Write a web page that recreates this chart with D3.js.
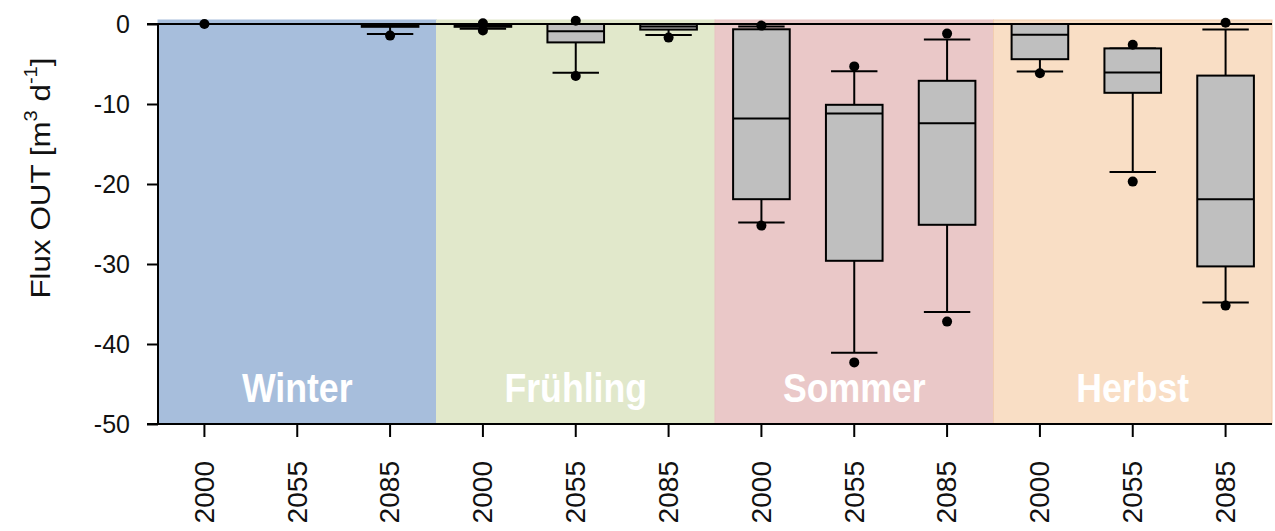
<!DOCTYPE html>
<html><head><meta charset="utf-8">
<script src="https://cdn.jsdelivr.net/npm/d3@7"></script>
<style>
html,body{margin:0;padding:0;background:#fff;}
svg{display:block;font-family:Arial,"Liberation Sans",sans-serif;}
</style></head>
<body>
<svg id="chart" width="1275" height="531"></svg>
<script>
// ---- data ----
const seasons = ["Winter", "Frühling", "Sommer", "Herbst"];
const years = ["2000", "2055", "2085"];
const yTicks = [0, -10, -20, -30, -40, -50];
// per box, order: Winter 2000,2055,2085, Frühling ..., Sommer ..., Herbst ...
const dotHigh     = [0,    null, null,  0.1,  0.4,  null, -0.2, -5.3, -1.2, null, -2.6,  0.15];
const whiskerHigh = [0,    0,    0,     0,    0,    0,    -0.3, -5.9, -1.95, 0,   -3.05, -0.7];
const q3          = [0,    0,    0,     0,    0,    0,    -0.66,-10.1,-7.1,  0,   -3.05, -6.45];
const median      = [0,    0,    -0.15, -0.15,-0.9, -0.3, -11.8,-11.2,-12.4,-1.35, -6.05,-21.9];
const q1          = [0,    0,    -0.35, -0.35,-2.3, -0.7, -21.9,-29.6,-25.1,-4.4,  -8.6, -30.3];
const whiskerLow  = [0,    0,    -1.25, -0.6, -6.1, -1.38,-24.8,-41.1,-36.0,-5.95,-18.5, -34.8];
const dotLow      = [null, null, -1.45, -0.8, -6.5, -1.7, -25.2,-42.3,-37.2,-6.15,-19.7, -35.2];

// ---- styles ----
const seasonFill = ["#a7bedc", "#e1e8cb", "#eac8c8", "#f9dec5"];
const seasonStroke = ["#a7bedc", "#e1e8cb", "#e8c2c1", "#f2cdb0"];

const svg = d3.select("#chart");
const keys = [];
seasons.forEach((s, i) => years.forEach(y => keys.push(s + "|" + y)));

const x = d3.scaleBand().domain(keys).range([158, 1272]).padding(0);
const y = d3.scaleLinear().domain([-50, 0]).range([424, 24]);

// season backgrounds
const sg = svg.append("g");
seasons.forEach((s, i) => {
  const x0 = x(s + "|" + years[0]);
  const x1 = x(s + "|" + years[years.length - 1]) + x.bandwidth();
  sg.append("rect")
    .attr("x", x0).attr("y", y(0.5))
    .attr("width", x1 - x0).attr("height", y(-50) - y(0.5))
    .attr("fill", seasonFill[i]).attr("stroke", seasonStroke[i]).attr("stroke-width", 1);
});

// season labels
seasons.forEach((s, i) => {
  const cx = x(s + "|" + years[1]) + x.bandwidth() / 2;
  svg.append("text")
    .attr("transform", `translate(${cx},402) scale(0.87,1)`)
    .attr("text-anchor", "middle")
    .attr("fill", "#ffffff")
    .attr("font-size", 41)
    .attr("font-weight", "bold")
    .text(s);
});

// zero line
svg.append("line")
  .attr("x1", 147).attr("x2", 1272)
  .attr("y1", y(0)).attr("y2", y(0))
  .attr("stroke", "#000").attr("stroke-width", 2);

// boxes
const boxW = x.bandwidth() * 0.61;
const capW = x.bandwidth() * 0.5;
const bg = svg.append("g");
keys.forEach((k, i) => {
  const cx = x(k) + x.bandwidth() / 2;
  const g = bg.append("g");
  g.append("line").attr("x1", cx).attr("x2", cx)
    .attr("y1", y(whiskerHigh[i])).attr("y2", y(q3[i]))
    .attr("stroke", "#000").attr("stroke-width", 2);
  g.append("line").attr("x1", cx).attr("x2", cx)
    .attr("y1", y(q1[i])).attr("y2", y(whiskerLow[i]))
    .attr("stroke", "#000").attr("stroke-width", 2);
  [whiskerHigh[i], whiskerLow[i]].forEach(v => {
    g.append("line").attr("x1", cx - capW / 2).attr("x2", cx + capW / 2)
      .attr("y1", y(v)).attr("y2", y(v))
      .attr("stroke", "#000").attr("stroke-width", 2);
  });
  g.append("rect")
    .attr("x", cx - boxW / 2).attr("width", boxW)
    .attr("y", y(q3[i])).attr("height", Math.max(0, y(q1[i]) - y(q3[i])))
    .attr("fill", "#bfbfbf").attr("stroke", "#000").attr("stroke-width", 2);
  g.append("line").attr("x1", cx - boxW / 2).attr("x2", cx + boxW / 2)
    .attr("y1", y(median[i])).attr("y2", y(median[i]))
    .attr("stroke", "#000").attr("stroke-width", 2);
  [dotHigh[i], dotLow[i]].forEach(v => {
    if (v === null) return;
    g.append("circle").attr("cx", cx).attr("cy", y(v)).attr("r", 5).attr("fill", "#000");
  });
});

// y axis
const yAxis = d3.axisLeft(y).tickValues(yTicks).tickSize(11).tickPadding(17).tickFormat(d => String(d));
const ya = svg.append("g").attr("transform", "translate(158,0)").call(yAxis);
ya.select(".domain").attr("stroke", "#000").attr("stroke-width", 2).attr("d", `M-11,${y(-50)}H0V${y(0)}H-11`);
ya.selectAll(".tick line").attr("stroke", "#000").attr("stroke-width", 2);
ya.selectAll(".tick text").attr("font-size", 25).attr("fill", "#111")
  .attr("font-family", "Arial, 'Liberation Sans', sans-serif");

// x axis
const xAxis = d3.axisBottom(x).tickSize(13).tickFormat(k => k.split("|")[1]);
const xa = svg.append("g").attr("transform", `translate(0,${y(-50)})`).call(xAxis);
xa.select(".domain").attr("stroke", "#000").attr("stroke-width", 2).attr("d", `M158,0H1272`);
xa.selectAll(".tick line").attr("stroke", "#000").attr("stroke-width", 2);
xa.selectAll(".tick text")
  .attr("font-size", 27).attr("fill", "#111")
  .attr("font-family", "Arial, 'Liberation Sans', sans-serif")
  .attr("text-anchor", "end")
  .attr("dy", null).attr("y", 0)
  .attr("transform", "translate(0,37) rotate(-90) scale(1.04,1)")
  .attr("dominant-baseline", "central");

// y title
const yt = svg.append("text")
  .attr("transform", `translate(40,178) rotate(-90) scale(1.12,1)`)
  .attr("text-anchor", "middle")
  .attr("dominant-baseline", "central")
  .attr("font-size", 28).attr("fill", "#111");
yt.append("tspan").text("Flux OUT [m");
yt.append("tspan").attr("font-size", 18).attr("dy", -10).text("3");
yt.append("tspan").attr("dy", 10).text(" d");
yt.append("tspan").attr("font-size", 18).attr("dy", -10).text("-1");
yt.append("tspan").attr("dy", 10).text("]");
</script>
</body></html>
